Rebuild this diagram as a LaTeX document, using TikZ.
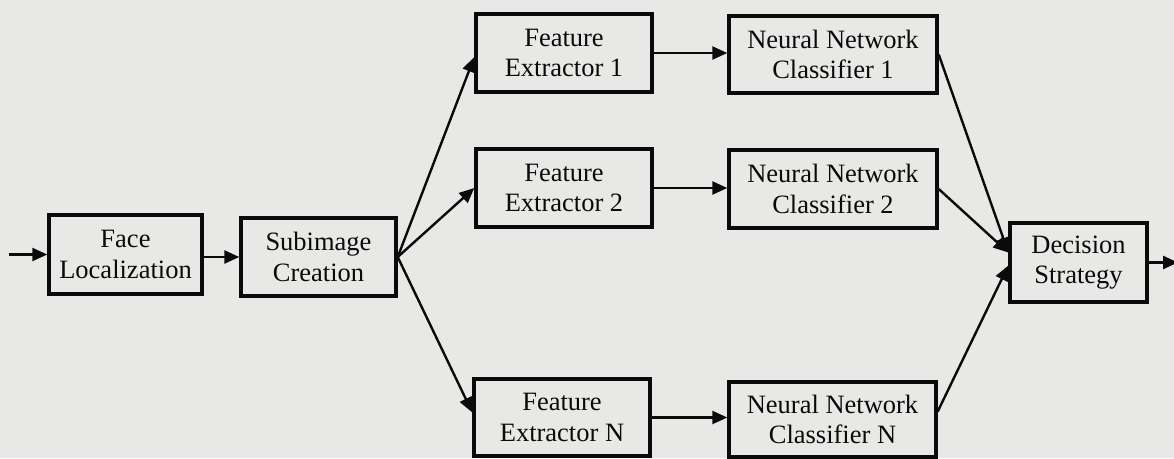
\documentclass[tikz,border=0pt]{standalone}
\usepackage{fontspec}
\setmainfont{Liberation Serif}
\usetikzlibrary{arrows.meta}
\definecolor{paper}{RGB}{232,232,230}
\definecolor{ink}{RGB}{10,10,10}
\tikzset{
  blk/.style={draw=ink, line width=3.4pt, inner sep=0pt, align=center,
    font=\fontsize{26.5}{30.5}\selectfont, text=ink},
  conn/.style={draw=ink, line width=2.4pt, -{Triangle[length=15pt,width=13pt]}},
}
\begin{document}
\begin{tikzpicture}[x=1pt,y=-1pt]
\fill[paper] (0,0) rectangle (1174,458);
\useasboundingbox (0,0) rectangle (1174,458);
\node[blk, minimum width=153pt, minimum height=79pt] (face) at (125.5,254.5) {Face\\Localization};
\node[blk, minimum width=155pt, minimum height=78pt] (sub) at (318.5,257) {Subimage\\Creation};
\node[blk, minimum width=176pt, minimum height=78pt] (fe1) at (564,53) {Feature\\Extractor 1};
\node[blk, minimum width=176pt, minimum height=78pt] (fe2) at (564,188) {Feature\\Extractor 2};
\node[blk, minimum width=176pt, minimum height=77pt] (feN) at (562,417.5) {Feature\\Extractor N};
\node[blk, minimum width=208pt, minimum height=77pt] (nn1) at (833,54.5) {Neural Network\\Classifier 1};
\node[blk, minimum width=208pt, minimum height=78pt] (nn2) at (833,189) {Neural Network\\Classifier 2};
\node[blk, minimum width=207pt, minimum height=75pt] (nnN) at (832.5,419.5) {Neural Network\\Classifier N};
\node[blk, minimum width=137pt, minimum height=79pt] (dec) at (1078.5,262.5) {Decision\\Strategy};
\coordinate (in) at (9,254.5);
\coordinate (out) at (1178,262.5);
\draw[conn] (in) -- (face.west);
\draw[conn] (face.east |- sub.west) -- (sub.west);
\draw[conn] (sub.east) -- ([yshift=-4pt]fe1.west);
\draw[conn] (sub.east) -- (fe2.west);
\draw[conn] (sub.east) -- ([yshift=5pt]feN.west);
\draw[conn] (fe1.east) -- (fe1.east -| nn1.west);
\draw[conn] (fe2.east) -- (fe2.east -| nn2.west);
\draw[conn] (feN.east) -- (feN.east -| nnN.west);
\draw[conn] (nn1.east) -- ([yshift=10pt]dec.west);
\draw[conn] (nn2.east) -- ([yshift=10pt]dec.west);
\draw[conn] ([yshift=8pt]nnN.east) -- ([yshift=-3pt]dec.west);
\draw[conn] (dec.east) -- (out);
\end{tikzpicture}
\end{document}
